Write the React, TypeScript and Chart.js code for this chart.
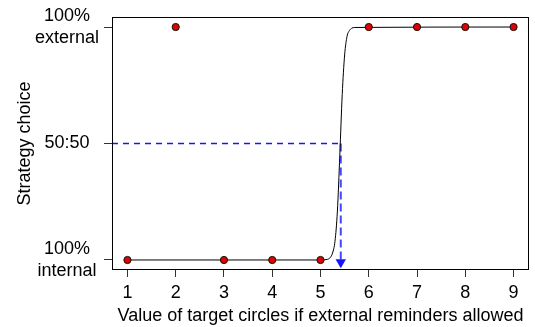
import React, { useEffect, useRef } from "react";
import { Chart, registerables } from "chart.js";
Chart.register(...registerables);

// ---- data ----
const xTickValues = [1, 2, 3, 4, 5, 6, 7, 8, 9];
const choiceX = [1, 2, 3, 4, 5, 6, 7, 8, 9];
const choiceY = [0, 1, 0, 0, 0, 1, 1, 1, 1];
const curveX = [1, 5, 5.15, 5.2, 5.25, 5.3, 5.35, 5.4, 5.45, 5.5, 5.55, 5.6, 5.65, 5.7, 9];
const curveY = [0, 0, 0.003, 0.01, 0.03, 0.08, 0.21, 0.45, 0.71, 0.88, 0.96, 0.985, 0.995, 0.998, 1];
const yTickValues = [0, 0.5, 1];
const yTickLabels = [["100%", "internal"], ["50:50"], ["100%", "external"]];
const indifferencePoint = 5.42;
const halfway = 0.5;
const arrowEnd = -0.01;
const xRange = [0.68, 9.32];
const yRange = [-0.043, 1.043];

const FONT = "'Liberation Sans', Arial, Helvetica, sans-serif";

const boxPlugin = {
  id: "box",
  afterDraw(chart: any) {
    const { ctx, chartArea: a } = chart;
    ctx.save();
    ctx.strokeStyle = "#000";
    ctx.lineWidth = 1;
    ctx.strokeRect(Math.round(a.left) + 0.5, Math.round(a.top) + 0.5, Math.round(a.right - a.left) - 1, Math.round(a.bottom - a.top) - 1);
    ctx.restore();
  },
};

export default function App() {
  const ref = useRef<HTMLCanvasElement>(null);
  useEffect(() => {
    const chart = new Chart(ref.current!, {
      type: "line",
      data: {
        datasets: [
          {
            label: "threshold-h",
            data: [
              { x: xRange[0], y: halfway },
              { x: indifferencePoint, y: halfway },
            ],
            borderColor: "rgb(20,20,255)",
            borderWidth: 1.5,
            borderDash: [6, 5],
            pointRadius: 0,
            order: 3,
          },
          {
            label: "threshold-v",
            data: [
              { x: indifferencePoint, y: halfway },
              { x: indifferencePoint, y: arrowEnd },
            ],
            borderColor: "rgb(70,70,255)",
            borderWidth: 2,
            borderDash: [8, 4],
            pointRadius: [0, 6],
            pointStyle: "triangle",
            rotation: 180,
            pointBackgroundColor: "rgb(20,20,255)",
            pointBorderColor: "rgb(20,20,255)",
            pointBorderWidth: 0,
            order: 3,
          },
          {
            label: "fit",
            data: curveX.map((x, i) => ({ x, y: curveY[i] })),
            borderColor: "#000",
            borderWidth: 1,
            pointRadius: 0,
            cubicInterpolationMode: "monotone",
            order: 2,
          },
          {
            label: "choices",
            data: choiceX.map((x, i) => ({ x, y: choiceY[i] })),
            showLine: false,
            pointRadius: 3.6,
            pointBackgroundColor: "#e00000",
            pointBorderColor: "#111",
            pointBorderWidth: 1,
            order: 1,
          },
        ],
      },
      options: {
        animation: false,
        responsive: false,
        devicePixelRatio: 1,
        layout: { padding: { left: 0, top: 17, right: 3, bottom: 0 } },
        plugins: { legend: { display: false }, tooltip: { enabled: false } },
        scales: {
          x: {
            type: "linear",
            min: xRange[0],
            max: xRange[1],
            afterBuildTicks: (s: any) => {
              s.ticks = xTickValues.map((v) => ({ value: v }));
            },
            afterFit: (s: any) => {
              s.height = 57;
              s.paddingLeft = 0;
              s.paddingRight = 0;
            },
            border: { display: false },
            grid: { drawOnChartArea: false, drawTicks: true, tickLength: 7, color: "#333" },
            ticks: {
              color: "#000",
              font: { family: FONT, size: 18 },
              padding: 5,
              maxRotation: 0,
              autoSkip: false,
              callback: (v: any) => String(v),
            },
            title: {
              display: true,
              text: "Value of target circles if external reminders allowed",
              color: "#000",
              font: { family: FONT, size: 18 },
              padding: { top: 0, bottom: 0 },
            },
          },
          y: {
            type: "linear",
            min: yRange[0],
            max: yRange[1],
            afterBuildTicks: (s: any) => {
              s.ticks = yTickValues.map((v) => ({ value: v }));
            },
            afterFit: (s: any) => {
              s.width = 112;
              s.paddingTop = 0;
              s.paddingBottom = 0;
            },
            border: { display: false },
            grid: { drawOnChartArea: false, drawTicks: true, tickLength: 8, color: "#333" },
            ticks: {
              color: "#000",
              font: { family: FONT, size: 18, lineHeight: 1.2 },
              padding: 5,
              crossAlign: "center",
              autoSkip: false,
              callback: (v: any) => {
                const i = yTickValues.indexOf(v);
                return i >= 0 ? yTickLabels[i] : "";
              },
            },
            title: {
              display: true,
              text: "Strategy choice",
              color: "#000",
              font: { family: FONT, size: 18 },
              padding: { top: 14, bottom: 0 },
            },
          },
        },
      },
      plugins: [boxPlugin],
    } as any);
    return () => chart.destroy();
  }, []);
  return (
    <div style={{ position: "absolute", left: 0, top: 0, width: 535, height: 327 }}>
      <canvas ref={ref} width={535} height={327} style={{ width: 535, height: 327, display: "block" }} />
    </div>
  );
}
